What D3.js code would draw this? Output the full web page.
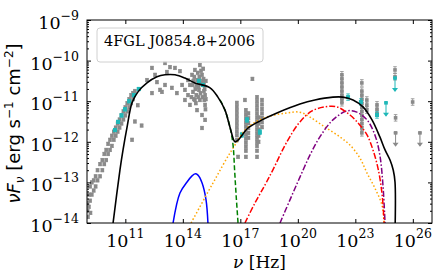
<!DOCTYPE html>
<html><head><meta charset="utf-8">
<script src="https://cdn.jsdelivr.net/npm/d3@7"></script>
<style>body{margin:0;background:#fff} .sf{font-family:"DejaVu Serif",serif} .ss{font-family:"DejaVu Sans",sans-serif}</style>
</head><body>
<svg id="c" width="436" height="273"></svg>
<script>
// ---------- DATA (log10 values) ----------
const xTickExp = [11, 14, 17, 20, 23, 26];
const yTickExp = [-14, -13, -12, -11, -10, -9];
const sourceName = "4FGL J0854.8+2006";

// gray archival points
const grayLogNu = [
 9.03,9.03,9.05,9.1,9.1,9.16,9.16,9.18,9.25,9.25,9.35,9.35,9.45,9.45,9.55,9.55,9.68,9.68,9.8,9.8,9.9,9.9,10.0,10.0,10.1,10.1,10.2,10.2,10.3,10.3,10.4,10.4,10.5,10.5,10.6,10.6,10.7,10.7,10.8,10.8,10.9,10.9,11.0,11.0,11.1,11.1,11.2,11.2,11.3,11.3,11.4,11.4,11.5,11.5,11.35,11.65,11.85,
 12.13,12.39,12.55,12.65,12.39,12.81,12.91,13.07,13.17,13.33,13.43,13.59,13.69,13.85,13.07,13.96,14.11,14.11,14.27,14.27,14.37,14.37,14.48,14.53,14.63,14.63,14.74,14.74,14.84,14.89,14.89,15.0,15.0,15.1,15.16,15.16,15.16,15.0,14.95,14.8,15.05,15.1,15.12,15.18,14.7,14.55,14.45,
 14.6,14.65,14.7,14.78,14.82,14.86,14.92,14.97,15.02,15.08,15.14,15.2,14.5,14.58,14.68,14.9,15.06,15.2,
 16.82,16.82,16.82,16.82,16.82,16.82,16.82,16.82,16.82,16.82,16.88,
 17.29,17.29,17.29,17.29,17.29,17.29,17.29,17.29,17.29,17.29,17.29,17.29,
 17.42,17.42,17.42,17.42,17.42,17.42,
 17.87,17.87,17.87,17.87,17.87,17.87,17.87,17.87,17.87,17.87,17.87,17.87,17.87,17.87,17.87,
 17.95,17.95,17.95,17.95,17.95,
 18.13,18.13,18.13,18.13,18.13,18.13,18.13,
 17.63,17.24,
 22.3,22.3,22.3,22.3,22.3,22.3,22.3,22.3,
 23.34,23.34,23.34,23.34,23.34,23.34,23.34,23.34,23.34,23.34,23.34,23.34,
 23.6,23.6,23.6,24.13,24.13,24.13,
 25.07,25.07,25.1,25.99
];
const grayLogF = [
 -13.5,-13.7,-13.85,-13.3,-13.6,-13.1,-13.45,-13.75,-13.0,-13.3,-12.95,-13.2,-12.85,-13.1,-12.7,-12.95,-12.55,-12.85,-12.45,-12.7,-12.3,-12.55,-12.2,-12.45,-12.05,-12.3,-11.95,-12.2,-11.85,-12.1,-11.75,-11.95,-11.65,-11.85,-11.55,-11.75,-11.45,-11.65,-11.35,-11.55,-11.25,-11.45,-11.15,-11.35,-11.05,-11.25,-10.95,-11.15,-10.85,-11.05,-10.8,-10.95,-10.75,-11.5,-11.95,-11.1,-11.6,
 -10.48,-10.18,-10.35,-10.53,-10.8,-10.72,-10.77,-10.06,-10.28,-10.16,-10.67,-10.18,-10.8,-10.26,-10.6,-10.6,-10.72,-10.97,-10.48,-10.85,-10.6,-11.09,-10.35,-10.77,-10.23,-10.97,-10.48,-11.22,-10.72,-10.11,-10.97,-10.35,-11.34,-10.6,-10.85,-11.09,-11.46,-11.66,-10.25,-10.9,-10.5,-10.75,-10.97,-11.2,-10.6,-10.5,-10.9,
 -10.4,-10.7,-10.85,-10.3,-10.65,-10.4,-10.8,-10.55,-10.9,-10.45,-10.7,-10.95,-10.6,-10.95,-11.05,-10.55,-10.2,-10.5,
 -11.04,-11.14,-11.24,-11.34,-11.44,-11.54,-11.64,-11.74,-11.84,-11.96,-12.37,
 -11.22,-11.32,-11.42,-11.52,-11.62,-11.72,-11.82,-11.92,-12.02,-12.12,-12.22,-12.37,
 -11.3,-11.42,-11.54,-11.66,-11.78,-11.9,
 -10.9,-11.0,-11.1,-11.2,-11.3,-11.4,-11.5,-11.6,-11.7,-11.8,-11.9,-12.0,-12.1,-12.22,-12.37,
 -11.4,-11.55,-11.7,-11.85,-12.0,
 -10.97,-11.08,-11.19,-11.3,-11.41,-11.52,-11.64,
 -10.45,-10.97,
 -10.35,-10.45,-10.55,-10.65,-10.75,-10.85,-10.95,-11.04,
 -10.55,-10.75,-10.85,-10.95,-11.05,-11.15,-11.25,-11.35,-11.45,-11.55,-11.65,-11.78,
 -10.97,-11.1,-11.22,-11.09,-11.2,-11.3,
 -10.23,-10.4,-11.41,-11.02
];
const grayErr = grayLogNu.map(v => v > 21 ? 0.08 : 0.04);

// gray upper limits
const grayULNu = [25.1, 26.37];
const grayULF  = [-11.78, -11.78];

// cyan (simultaneous) points
const cyanLogNu = [10.46,10.62,10.8,10.98,11.2,11.45,11.7,14.84,15.05,17.35,17.08,18.02,22.62,23.29,24.13];
const cyanLogF  = [-11.71,-11.51,-11.35,-11.2,-11.0,-10.85,-10.7,-10.5,-10.6,-11.46,-11.83,-11.76,-10.9,-11.02,-11.34];
const cyanErr   = [0.04,0.04,0.04,0.04,0.04,0.04,0.04,0.04,0.04,0.06,0.06,0.06,0.08,0.08,0.08];
const cyanULNu = [24.6, 25.07];
const cyanULF  = [-11.04, -10.43];

// model components
const totalLogNu = [10.36,10.72,10.88,11.09,11.35,11.66,12.13,12.65,13.07,13.59,14.11,14.63,15.42,15.83,16.2,16.46,16.72,16.88,17.4,18.13,18.91,20.11,20.89,21.83,22.35,22.88,23.4,23.87,24.28,24.55,24.81,24.98,25.07,25.08];
const totalLogF  = [-14,-12.69,-12.2,-11.64,-11.04,-10.77,-10.55,-10.4,-10.35,-10.35,-10.43,-10.55,-10.67,-10.9,-11.22,-11.64,-12.0,-11.96,-11.66,-11.46,-11.29,-11.07,-10.97,-10.9,-10.9,-10.97,-11.14,-11.46,-11.88,-12.2,-12.45,-12.7,-12.99,-14];

const syncLogNu = [15.94,16.2,16.46,16.62,16.7,16.78,16.88];
const syncLogF  = [-10.97,-11.22,-11.64,-12.08,-12.69,-13.31,-14];

const diskLogNu = [13.49,13.85,14.22,14.48,14.63,14.79,15.0,15.21,15.31];
const diskLogF  = [-14,-13.26,-12.99,-12.84,-12.79,-12.82,-13.01,-13.43,-14];

const sscLogNu = [14.43,15.52,16.56,17.4,18.39,19.43,20.11,20.63,21.42,22.2,22.72,23.24,23.61,24.02,24.39,24.5];
const sscLogF  = [-14,-13.06,-12.2,-11.64,-11.39,-11.29,-11.27,-11.39,-11.64,-11.88,-12.08,-12.4,-12.77,-13.14,-13.56,-14];

const ecBLRLogNu = [17.24,17.76,18.29,18.7,19.43,20.11,20.74,21.42,22.04,22.72,23.24,23.61,23.92,24.2,24.4,24.5];
const ecBLRLogF  = [-14,-13.51,-13.06,-12.69,-12.0,-11.51,-11.24,-11.14,-11.14,-11.34,-11.59,-11.83,-12.2,-12.69,-13.31,-14];

const ecDTLogNu = [19.07,19.59,20.11,20.63,21.15,21.83,22.56,23.08,23.61,24.02,24.28,24.44,24.55];
const ecDTLogF  = [-14,-13.43,-12.87,-12.33,-11.88,-11.46,-11.24,-11.27,-11.46,-11.83,-12.33,-13.06,-14];

// ---------- CHART ----------
const m = {l:87, t:20, r:432, b:223};
const svg = d3.select("#c");
const x = d3.scaleLog().domain([1e9, 1e27]).range([m.l, m.r]);
const y = d3.scaleLog().domain([1e-14, 1e-9]).range([m.b, m.t]);
const P = (a, b) => [x(Math.pow(10, a)), y(Math.pow(10, b))];

svg.append("defs").append("clipPath").attr("id","clip")
  .append("rect").attr("x",m.l).attr("y",m.t).attr("width",m.r-m.l).attr("height",m.b-m.t);
const g = svg.append("g").attr("clip-path","url(#clip)");

function drawPoints(nu, f, err, color, s){
  nu.forEach((v,i)=>{
    const [px,py] = P(v, f[i]);
    const [,pt] = P(v, f[i]+err[i]);
    const [,pb] = P(v, f[i]-err[i]);
    g.append("line").attr("x1",px).attr("x2",px).attr("y1",pt).attr("y2",pb).attr("stroke",color).attr("stroke-width",0.8);
    g.append("line").attr("x1",px-1.8).attr("x2",px+1.8).attr("y1",pt).attr("y2",pt).attr("stroke",color).attr("stroke-width",0.8);
    g.append("line").attr("x1",px-1.8).attr("x2",px+1.8).attr("y1",pb).attr("y2",pb).attr("stroke",color).attr("stroke-width",0.8);
    g.append("rect").attr("x",px-s/2).attr("y",py-s/2).attr("width",s).attr("height",s).attr("fill",color);
  });
}
function drawUL(nu, f, color){
  nu.forEach((v,i)=>{
    const [px,py] = P(v, f[i]);
    const [,pe] = P(v, f[i]-0.32);
    g.append("line").attr("x1",px-2).attr("x2",px+2).attr("y1",py).attr("y2",py).attr("stroke",color).attr("stroke-width",0.8);
    g.append("line").attr("x1",px).attr("x2",px).attr("y1",py).attr("y2",pe).attr("stroke",color).attr("stroke-width",1);
    g.append("path").attr("d",`M${px-3},${pe-3}L${px+3},${pe-3}L${px},${pe+1}Z`).attr("fill",color);
    g.append("rect").attr("x",px-1.8).attr("y",py-1.8).attr("width",3.6).attr("height",3.6).attr("fill",color);
  });
}
const gray = "#8a8a8a", cyan = "#1fb8b8";
drawPoints(grayLogNu, grayLogF, grayErr, gray, 3.6);
drawUL(grayULNu, grayULF, gray);
drawPoints(cyanLogNu, cyanLogF, cyanErr, cyan, 4);
drawUL(cyanULNu, cyanULF, cyan);

const line = d3.line().x(d=>d[0]).y(d=>d[1]).curve(d3.curveCatmullRom.alpha(0.5));
function curve(nu, f, color, dash, w){
  g.append("path").attr("d", line(nu.map((v,i)=>P(v,f[i]))))
   .attr("fill","none").attr("stroke",color).attr("stroke-width",w||1.5)
   .attr("stroke-dasharray",dash||null);
}
curve(diskLogNu, diskLogF, "#0000ff");
curve(sscLogNu, sscLogF, "orange", "1.5,2.2");
curve(ecDTLogNu, ecDTLogF, "purple", "6,2,1.5,2");
curve(ecBLRLogNu, ecBLRLogF, "red", "6,2,1.5,2");
curve(syncLogNu, syncLogF, "green", "5,2.5");
curve(totalLogNu, totalLogF, "black", null, 1.6);

// axes
const xt = xTickExp.map(e=>Math.pow(10,e));
const yMajor = yTickExp.map(e=>Math.pow(10,e));
const yMinor = [];
for (let e=-14; e<-9; e++) for (let k=2;k<=9;k++) yMinor.push(k*Math.pow(10,e));
function styleAxis(sel){ sel.select(".domain").remove(); sel.selectAll("line").attr("stroke","#000"); sel.selectAll("text").remove(); }
svg.append("g").attr("transform",`translate(0,${m.b})`).call(d3.axisBottom(x).tickValues(xt).tickSize(-4).tickFormat("")).call(styleAxis);
svg.append("g").attr("transform",`translate(0,${m.t})`).call(d3.axisTop(x).tickValues(xt).tickSize(-4).tickFormat("")).call(styleAxis);
svg.append("g").attr("transform",`translate(${m.l},0)`).call(d3.axisLeft(y).tickValues(yMajor).tickSize(-4).tickFormat("")).call(styleAxis);
svg.append("g").attr("transform",`translate(${m.l},0)`).call(d3.axisLeft(y).tickValues(yMinor).tickSize(-2).tickFormat("")).call(styleAxis);
svg.append("g").attr("transform",`translate(${m.r},0)`).call(d3.axisRight(y).tickValues(yMajor).tickSize(-4).tickFormat("")).call(styleAxis);
svg.append("g").attr("transform",`translate(${m.r},0)`).call(d3.axisRight(y).tickValues(yMinor).tickSize(-2).tickFormat("")).call(styleAxis);
svg.append("rect").attr("x",m.l).attr("y",m.t).attr("width",m.r-m.l).attr("height",m.b-m.t)
  .attr("fill","none").attr("stroke","#000").attr("stroke-width",1);

xTickExp.forEach(e=>{
  const t = svg.append("text").attr("class","sf").attr("x",x(Math.pow(10,e))).attr("y",247).attr("text-anchor","middle")
    .attr("font-size",17.5).attr("fill","#000");
  t.append("tspan").text("10");
  t.append("tspan").attr("dy",-9).attr("font-size",12.5).text(String(e));
});
yTickExp.forEach(e=>{
  const t = svg.append("text").attr("class","sf").attr("x",79).attr("y",y(Math.pow(10,e))+9).attr("text-anchor","end")
    .attr("font-size",17.5).attr("fill","#000");
  t.append("tspan").text("10");
  t.append("tspan").attr("dy",-9).attr("font-size",12.5).text("\u2212"+String(-e));
});
// axis titles
const xl = svg.append("text").attr("class","sf").attr("x",(m.l+m.r)/2).attr("y",268).attr("text-anchor","middle")
  .attr("font-size",17).attr("fill","#000");
xl.append("tspan").attr("font-style","italic").text("\u03bd");
xl.append("tspan").text(" [Hz]");

const yl = svg.append("text").attr("class","ss").attr("transform",`translate(20,${(m.t+m.b)/2+2}) rotate(-90)`).attr("text-anchor","middle")
  .attr("font-size",18).attr("fill","#000");
yl.append("tspan").attr("font-style","italic").text("\u03bdF");
yl.append("tspan").attr("font-style","italic").attr("font-size",12).attr("dy",4).text("\u03bd");
yl.append("tspan").attr("dy",-4).text(" [erg s");
yl.append("tspan").attr("font-size",12).attr("dy",-7).text("\u22121");
yl.append("tspan").attr("dy",7).text(" cm");
yl.append("tspan").attr("font-size",12).attr("dy",-7).text("\u22122");
yl.append("tspan").attr("dy",7).text("]");

// legend
svg.append("rect").attr("x",97).attr("y",28).attr("width",166).attr("height",34).attr("rx",3)
  .attr("fill","#fff").attr("fill-opacity",0.8).attr("stroke","#d0d0d0").attr("stroke-width",1);
const lt = svg.append("text").attr("class","sf").attr("x",104).attr("y",45.5).attr("font-size",14).attr("fill","#000").text(sourceName);
const lw = lt.node().getComputedTextLength();
if (lw > 0) lt.attr("font-size", 14 * 151 / lw);
</script>
</body></html>
